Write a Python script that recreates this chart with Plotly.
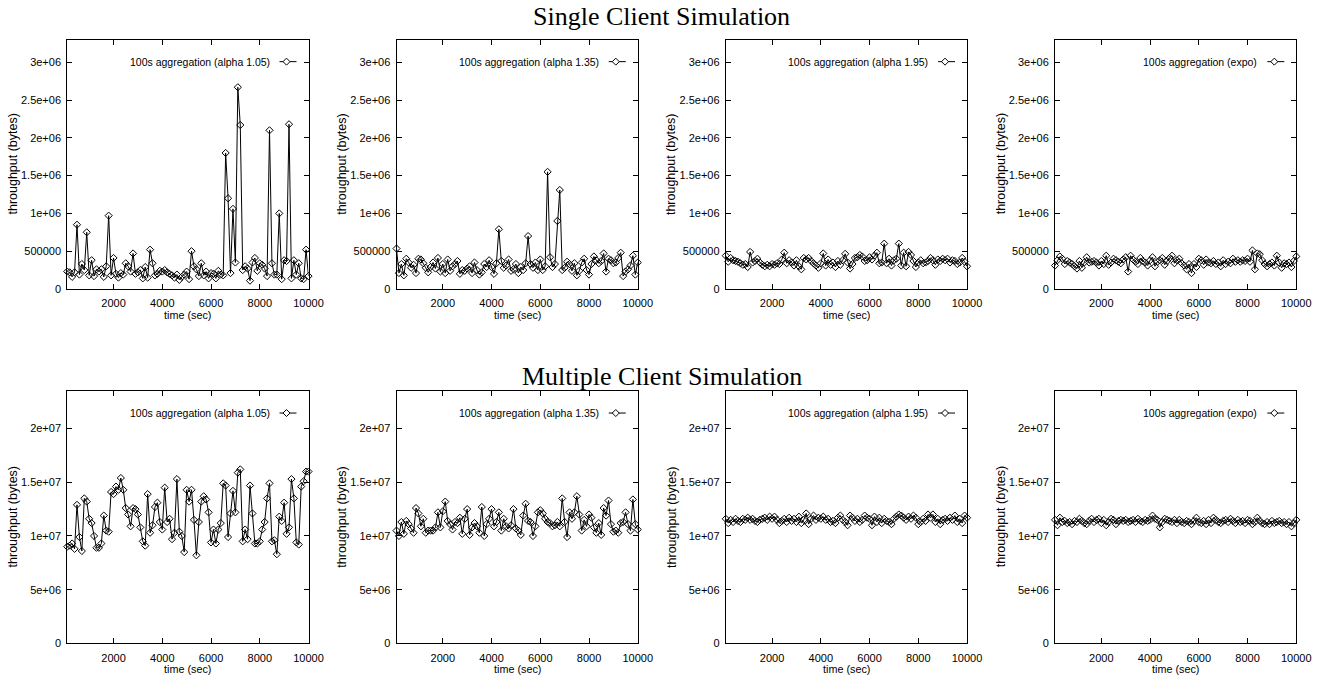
import plotly.graph_objects as go

# ---------------- data ----------------
time_sec = list(range(100, 10001, 100))

# Single client (values in thousands of bytes)
single_a105 = [230, 220, 160, 220, 850, 190, 330, 250, 750, 180,
               380, 170, 260, 230, 260, 160, 300, 970, 180, 410,
               200, 150, 210, 190, 340, 300, 230, 470, 200, 220,
               250, 140, 290, 150, 520, 340, 180, 200, 240, 230,
               250, 220, 200, 180, 150, 190, 120, 160, 190, 230,
               130, 500, 300, 260, 170, 340, 180, 230, 140, 210,
               200, 140, 240, 190, 180, 1800, 1200, 210, 1060, 350,
               2670, 2170, 250, 300, 270, 110, 350, 410, 240, 340,
               320, 270, 170, 2100, 340, 190, 190, 1000, 130, 380,
               370, 2180, 140, 380, 190, 340, 140, 130, 520, 170]
single_a135 = [535, 210, 330, 180, 400, 350, 280, 320, 210, 400,
               390, 340, 280, 220, 290, 350, 270, 410, 230, 330,
               210, 390, 240, 300, 330, 370, 200, 250, 240, 270,
               300, 210, 350, 250, 190, 220, 330, 290, 380, 290,
               200, 340, 790, 370, 280, 310, 390, 240, 260, 330,
               210, 290, 250, 340, 700, 330, 280, 350, 250, 390,
               250, 300, 1550, 420, 290, 330, 900, 1310, 250, 280,
               360, 330, 240, 340, 180, 240, 350, 400, 250, 190,
               330, 430, 380, 340, 370, 470, 230, 400, 380, 340,
               350, 410, 480, 170, 230, 260, 310, 440, 190, 350]
single_a195 = [440, 360, 410, 380, 370, 360, 340, 320, 330, 290,
               490, 350, 370, 400, 350, 320, 300, 320, 300, 330,
               320, 340, 330, 390, 480, 340, 380, 350, 310, 380,
               300, 260, 410, 390, 410, 370, 340, 310, 280, 340,
               470, 310, 390, 320, 350, 290, 370, 320, 380, 465,
               350, 270, 330, 410, 420, 450, 430, 370, 380, 420,
               390, 440, 480, 340, 350, 600, 340, 400, 310, 380,
               400, 600, 310, 480, 300, 490, 450, 370, 290, 350,
               380, 340, 350, 370, 410, 380, 320, 390, 370, 400,
               380, 400, 350, 380, 370, 330, 350, 410, 360, 300]
single_expo = [310, 380, 430, 400, 330, 370, 350, 330, 300, 270,
               370, 280, 350, 420, 350, 360, 370, 350, 310, 370,
               330, 440, 320, 350, 400, 380, 360, 340, 390, 420,
               230, 440, 390, 360, 330, 410, 370, 350, 310, 380,
               420, 300, 360, 380, 410, 320, 370, 410, 440, 340,
               380, 400, 340, 310, 260, 330, 210, 330, 290, 400,
               380, 320, 390, 350, 340, 370, 330, 350, 300, 380,
               330, 360, 340, 400, 360, 380, 360, 380, 370, 400,
               360, 510, 260, 470, 460, 380, 330, 300, 330, 350,
               310, 440, 350, 280, 340, 330, 350, 290, 370, 430]

# Multiple clients (values in millions of bytes)
multi_a105 = [9.0, 9.1, 9.3, 8.8, 12.9, 9.9, 8.6, 13.5, 13.2, 11.6,
              11.2, 10.0, 8.9, 8.9, 9.3, 11.9, 10.5, 10.4, 14.1, 13.9,
              14.6, 14.3, 15.4, 14.3, 12.6, 12.0, 10.9, 12.6, 12.5, 12.0,
              10.8, 9.5, 9.1, 13.9, 10.3, 11.0, 12.7, 13.1, 11.3, 10.6,
              14.5, 11.3, 11.6, 9.7, 10.3, 15.3, 10.4, 10.0, 8.5, 14.3,
              13.2, 14.3, 11.5, 8.2, 11.3, 13.2, 13.7, 13.4, 12.2, 9.4,
              10.6, 9.3, 10.6, 11.2, 14.9, 14.7, 9.9, 12.1, 14.2, 12.2,
              15.9, 16.2, 9.5, 10.6, 9.7, 14.7, 12.1, 9.3, 9.3, 9.5,
              10.6, 11.3, 13.5, 14.9, 9.5, 9.6, 8.3, 11.8, 11.4, 13.1,
              10.2, 10.8, 15.3, 13.5, 9.4, 9.2, 14.6, 15.1, 16.0, 16.0]
multi_a135 = [10.5, 10.0, 11.3, 10.2, 11.4, 11.1, 10.7, 10.3, 12.6, 12.1,
              10.9, 11.6, 10.3, 10.5, 10.5, 10.5, 10.8, 12.2, 10.8, 12.3,
              13.2, 11.4, 11.1, 10.6, 11.3, 11.2, 11.7, 10.2, 11.6, 12.5,
              10.1, 10.8, 11.2, 10.9, 10.3, 12.7, 10.0, 11.1, 11.6, 12.5,
              10.9, 11.3, 12.2, 10.5, 11.6, 10.9, 10.7, 11.0, 12.5, 10.7,
              10.5, 10.1, 11.9, 13.0, 11.4, 11.3, 10.0, 10.9, 12.2, 12.4,
              12.1, 11.6, 11.3, 11.2, 10.9, 11.0, 11.3, 10.9, 13.5, 11.3,
              9.9, 12.2, 11.6, 12.2, 13.7, 12.0, 10.5, 11.5, 10.9, 12.0,
              11.7, 10.8, 10.3, 11.2, 10.1, 12.6, 11.9, 13.3, 11.1, 10.4,
              10.5, 10.3, 11.2, 11.3, 12.2, 11.1, 10.5, 13.4, 11.1, 10.6]
multi_a195 = [11.6, 11.2, 11.5, 11.3, 11.6, 11.4, 11.3, 11.6, 11.5, 11.7,
              11.5, 11.6, 11.4, 11.3, 11.5, 11.6, 11.7, 11.5, 11.8, 11.6,
              11.8, 11.5, 11.2, 11.4, 11.6, 11.3, 11.7, 11.4, 11.6, 11.3,
              11.8, 11.2, 11.5, 12.1, 11.1, 11.6, 11.9, 11.5, 11.7, 11.6,
              11.8, 11.5, 11.6, 11.3, 11.4, 11.2, 11.7, 11.9, 11.5, 11.3,
              11.0, 11.9, 11.7, 11.4, 11.6, 11.3, 11.5, 11.9, 11.7, 11.6,
              11.0, 11.8, 11.3, 11.7, 11.2, 11.6, 11.4, 11.3, 11.1, 11.6,
              11.8, 12.0, 11.9, 11.7, 11.5, 11.8, 11.6, 11.9, 11.7, 11.1,
              11.3, 11.6, 11.4, 12.0, 11.7, 12.0, 11.3, 11.6, 11.1, 11.5,
              11.6, 11.4, 11.7, 11.5, 11.9, 11.3, 11.6, 11.2, 11.9, 11.7]
multi_expo = [11.5, 11.0, 11.7, 11.3, 11.4, 11.2, 11.3, 11.1, 11.4, 11.3,
              11.6, 11.4, 11.2, 11.1, 11.4, 11.6, 11.3, 11.5, 11.6, 11.2,
              11.5, 11.0, 11.3, 11.6, 11.5, 11.1, 11.4, 11.5, 11.4, 11.5,
              11.3, 11.4, 11.5, 11.3, 11.6, 11.4, 11.3, 11.5, 11.4, 11.5,
              11.9, 11.6, 11.5, 10.8, 11.3, 11.6, 11.5, 11.4, 11.3, 11.5,
              11.2, 11.5, 11.3, 11.2, 11.4, 11.3, 11.1, 11.4, 11.7, 11.3,
              11.2, 11.4, 11.1, 11.5, 11.2, 11.7, 11.5, 11.3, 11.2, 11.4,
              11.5, 11.3, 11.6, 11.4, 11.2, 11.5, 11.3, 11.4, 11.2, 11.5,
              11.4, 11.1, 11.3, 11.7, 11.4, 11.2, 11.1, 11.3, 11.1, 11.4,
              11.2, 11.3, 11.4, 11.2, 11.3, 11.1, 11.3, 10.9, 11.2, 11.5]

legend_names = ["100s aggregation (alpha 1.05)", "100s aggregation (alpha 1.35)",
                "100s aggregation (alpha 1.95)", "100s aggregation (expo)"]
row_titles = ["Single Client Simulation", "Multiple Client Simulation"]

x_tickvals = [2000, 4000, 6000, 8000, 10000]
x_ticktext = ["2000", "4000", "6000", "8000", "10000"]
y1_tickvals = [0, 500000, 1000000, 1500000, 2000000, 2500000, 3000000]
y1_ticktext = ["0", "500000", "1e+06", "1.5e+06", "2e+06", "2.5e+06", "3e+06"]
y2_tickvals = [0, 5e6, 1e7, 1.5e7, 2e7]
y2_ticktext = ["0", "5e+06", "1e+07", "1.5e+07", "2e+07"]

# ---------------- layout geometry (pixels) ----------------
W, H = 1338, 685
lefts = [68, 401, 734, 1067]
pw = 244
rows = [(40, 291.5), (394.5, 649)]
y_ranges = [[0, 3.3e6], [0, 2.35e7]]

series = [
    [[v * 1000 for v in single_a105], [v * 1000 for v in single_a135],
     [v * 1000 for v in single_a195], [v * 1000 for v in single_expo]],
    [[v * 1e6 for v in multi_a105], [v * 1e6 for v in multi_a135],
     [v * 1e6 for v in multi_a195], [v * 1e6 for v in multi_expo]],
]

fig = go.Figure()
annotations = []
shapes = []
FONT = "Liberation Sans, Arial, sans-serif"

for r in range(2):
    top, bot = rows[r]
    for c in range(4):
        idx = r * 4 + c + 1
        xa = "xaxis" if idx == 1 else f"xaxis{idx}"
        ya = "yaxis" if idx == 1 else f"yaxis{idx}"
        xr = "x" if idx == 1 else f"x{idx}"
        yr = "y" if idx == 1 else f"y{idx}"
        fig.add_trace(go.Scatter(
            x=time_sec, y=series[r][c], mode="lines+markers",
            line=dict(color="black", width=1),
            marker=dict(symbol="diamond-open", size=5.5, color="black",
                        line=dict(color="black", width=1)),
            cliponaxis=False, showlegend=False, xaxis=xr, yaxis=yr,
            name=legend_names[c]))
        common = dict(showline=True, linecolor="black", linewidth=1, mirror="allticks",
                      ticks="inside", ticklen=5, tickwidth=1, tickcolor="black",
                      showgrid=False, zeroline=False,
                      tickfont=dict(family=FONT, size=11, color="black"))
        fig.layout[xa] = dict(domain=[lefts[c] / W, (lefts[c] + pw) / W],
                              range=[100, 10000], anchor=yr,
                              tickmode="array", tickvals=x_tickvals, ticktext=x_ticktext,
                              ticklabelstandoff=4, **common)
        fig.layout[ya] = dict(domain=[1 - bot / H, 1 - top / H],
                              range=y_ranges[r], anchor=xr,
                              tickmode="array",
                              tickvals=y1_tickvals if r == 0 else y2_tickvals,
                              ticktext=y1_ticktext if r == 0 else y2_ticktext,
                              ticklabelstandoff=3, **common)
        # legend text (gnuplot style key: text then sample)
        annotations.append(dict(text=legend_names[c], xref=f"{xr} domain", yref=f"{yr} domain",
                                x=1, y=1, xshift=-37, yshift=-22, xanchor="right", yanchor="middle",
                                showarrow=False, font=dict(family=FONT, size=10.5, color="black")))
        shapes.append(dict(type="line", xref=f"{xr} domain", yref=f"{yr} domain",
                           xsizemode="pixel", ysizemode="pixel", xanchor=1, yanchor=1,
                           x0=-29, x1=-12, y0=-22, y1=-22,
                           line=dict(color="black", width=1)))
        shapes.append(dict(type="path", xref=f"{xr} domain", yref=f"{yr} domain",
                           xsizemode="pixel", ysizemode="pixel", xanchor=1, yanchor=1,
                           path="M -22,-18.5 L -18.5,-22 L -22,-25.5 L -25.5,-22 Z",
                           fillcolor="white", line=dict(color="black", width=1)))
        # axis titles
        annotations.append(dict(text="throughput (bytes)", xref=f"{xr} domain", yref=f"{yr} domain",
                                x=0, y=0.5, xshift=-54, xanchor="center", yanchor="middle",
                                textangle=-90, showarrow=False,
                                font=dict(family=FONT, size=12.5, color="black")))
        annotations.append(dict(text="time (sec)", xref=f"{xr} domain", yref=f"{yr} domain",
                                x=0.5, y=0, yshift=-26, xanchor="center", yanchor="middle",
                                showarrow=False, font=dict(family=FONT, size=10.8, color="black")))

title_y = [17, 380]
for r in range(2):
    annotations.append(dict(text=row_titles[r], xref="paper", yref="paper",
                            x=669 / W, y=1 - title_y[r] / H, xanchor="center", yanchor="middle",
                            showarrow=False,
                            font=dict(family="Liberation Serif, Times New Roman, serif", size=26,
                                      color="black")))

fig.update_layout(width=W, height=H, margin=dict(l=0, r=0, t=0, b=0),
                  paper_bgcolor="white", plot_bgcolor="white",
                  annotations=annotations, shapes=shapes, showlegend=False)

fig.write_html("out.html", config={"displayModeBar": False},
               post_script="document.body.style.margin='0px';")
